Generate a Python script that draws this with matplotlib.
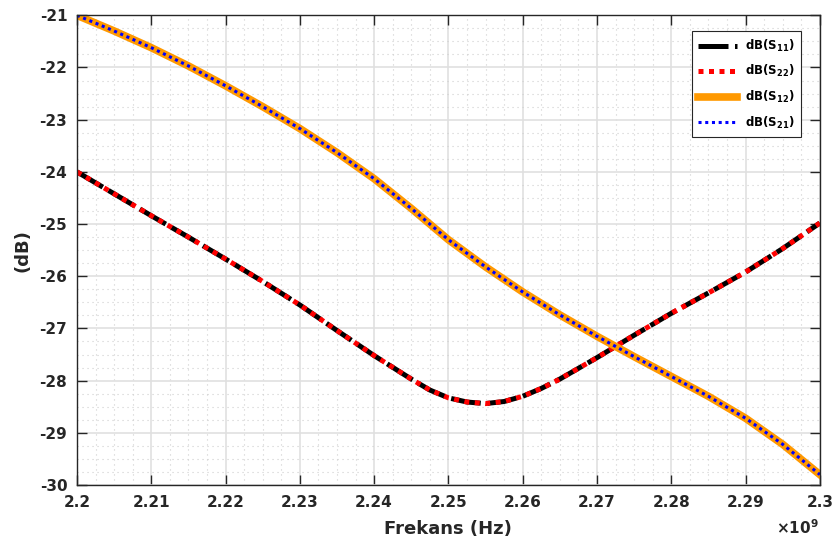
import matplotlib.pyplot as plt
import numpy as np
from matplotlib.ticker import MultipleLocator, AutoMinorLocator, FuncFormatter

plt.rcParams['font.family'] = ['DejaVu Sans']
plt.rcParams['font.weight'] = 'bold'
plt.rcParams['mathtext.default'] = 'regular'

# frequency (GHz) and S-parameters (dB)
freq_refl = [2.200, 2.205, 2.210, 2.215, 2.220, 2.225, 2.230, 2.235, 2.240, 2.245, 2.2475, 2.250,
             2.2525, 2.255, 2.2575, 2.260, 2.2625, 2.265, 2.270, 2.275, 2.280, 2.285, 2.290, 2.295, 2.300]
s11 = [-24.00, -24.42, -24.84, -25.25, -25.67, -26.10, -26.55, -27.04, -27.52, -27.97, -28.18, -28.33,
       -28.41, -28.44, -28.40, -28.30, -28.15, -27.97, -27.56, -27.13, -26.71, -26.32, -25.92, -25.47, -24.98]
s22 = [-24.00, -24.42, -24.84, -25.25, -25.67, -26.10, -26.55, -27.04, -27.52, -27.97, -28.18, -28.33,
       -28.41, -28.44, -28.40, -28.30, -28.15, -27.97, -27.56, -27.13, -26.71, -26.32, -25.92, -25.47, -24.98]

freq_trans = [2.200, 2.205, 2.210, 2.215, 2.220, 2.225, 2.230, 2.235, 2.240, 2.245, 2.250,
              2.255, 2.260, 2.265, 2.270, 2.275, 2.280, 2.285, 2.290, 2.295, 2.300]
s12 = [-21.00, -21.30, -21.62, -21.97, -22.35, -22.75, -23.17, -23.63, -24.13, -24.70, -25.30,
       -25.82, -26.30, -26.74, -27.15, -27.54, -27.92, -28.30, -28.72, -29.22, -29.80]
s21 = [-21.00, -21.30, -21.62, -21.97, -22.35, -22.75, -23.17, -23.63, -24.13, -24.70, -25.30,
       -25.82, -26.30, -26.74, -27.15, -27.54, -27.92, -28.30, -28.72, -29.22, -29.80]

fr = np.array(freq_refl) * 1e9
ft = np.array(freq_trans) * 1e9

fig = plt.figure(figsize=(8.34, 5.41), dpi=100)
ax = fig.add_axes([0.0923, 0.1035, 0.8907, 0.8682])

ax.plot(fr, s11, color='black', lw=3.6, ls=(0, (6, 1.3)), label='dB(S$_{11}$)')
ax.plot(fr, s22, color='red', lw=3.6, ls=(0, (1, 1.1)), label='dB(S$_{22}$)')
ax.plot(ft, s12, color='#ff9900', lw=5.5, label='dB(S$_{12}$)')
ax.plot(ft, s21, color='blue', lw=2.2, ls=(0, (1, 1.2)), label='dB(S$_{21}$)')

ax.set_xlim(2.2e9, 2.3e9)
ax.set_ylim(-30, -21)
ax.xaxis.set_major_locator(MultipleLocator(0.01e9))
ax.yaxis.set_major_locator(MultipleLocator(1))
ax.xaxis.set_minor_locator(AutoMinorLocator(4))
ax.yaxis.set_minor_locator(AutoMinorLocator(4))
ax.xaxis.set_major_formatter(FuncFormatter(lambda v, p: '%g' % round(v / 1e9, 3)))
ax.yaxis.set_major_formatter(FuncFormatter(lambda v, p: '%d' % v))

ax.grid(True, which='major', color='#e0e0e0', lw=1.2)
ax.grid(True, which='minor', color='#cfcfcf', lw=0.8, ls=(0, (1, 3.5)))
ax.set_axisbelow(True)

ax.tick_params(which='major', direction='in', length=7, width=1, top=True, right=True,
               labelsize=11, colors='#262626', pad=7)
ax.tick_params(which='minor', length=0)
for s in ax.spines.values():
    s.set_color('#262626')
    s.set_linewidth(1)

ax.set_xlabel('Frekans (Hz)', fontsize=13, fontweight='bold', color='#262626')
ax.set_ylabel('(dB)', fontsize=13, fontweight='bold', color='#262626')
ax.xaxis.set_label_coords(0.5, -0.094)
ax.xaxis.label.set_va('center')
ax.yaxis.set_label_coords(-0.074, 0.5)
ax.yaxis.label.set_va('center')
fig.text(0.982, 0.007, r'$\times\mathregular{10^{9}}$', fontsize=11, color='#262626',
         ha='right', va='bottom')

leg = ax.legend(loc='upper right', bbox_to_anchor=(0.974, 0.966), borderaxespad=0,
                fancybox=False, framealpha=1, edgecolor='#262626', handlelength=3.3,
                borderpad=0.55, labelspacing=0.8, handletextpad=0.6,
                prop={'weight': 'bold', 'size': 8.5})
leg.get_frame().set_linewidth(0.8)

fig.savefig('out.png', dpi=100)
